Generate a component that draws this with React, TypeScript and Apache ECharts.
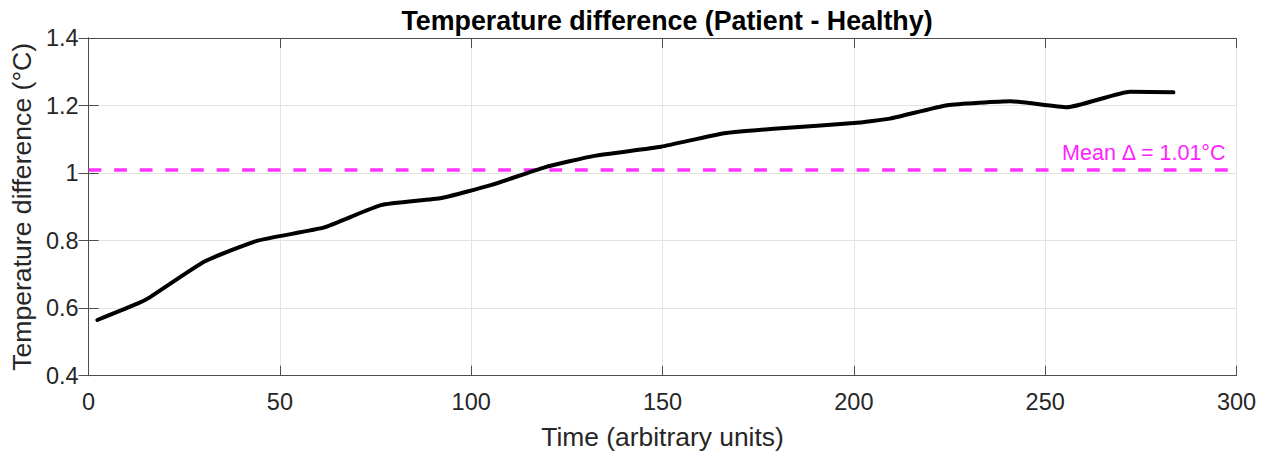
import React, { useEffect, useRef } from "react";
import * as echarts from "echarts";

const times = [2.3, 12.9, 16, 30.3, 44.2, 61.6, 76.4, 92.2, 105.3, 119.2, 132.2, 149.6, 166.1, 180.9, 200, 209.7, 224.4, 241, 255.7, 272.2, 283.5];
const diffs = [0.565, 0.614, 0.632, 0.738, 0.8, 0.839, 0.905, 0.926, 0.965, 1.017, 1.051, 1.078, 1.118, 1.133, 1.148, 1.162, 1.201, 1.213, 1.195, 1.241, 1.239];
const meanValue = 1.01;
const meanLabel = "Mean Δ = 1.01°C";
const titleText = "Temperature difference (Patient - Healthy)";
const xName = "Time (arbitrary units)";
const yName = "Temperature difference (°C)";

const FONT = "'Liberation Sans', Arial, Helvetica, sans-serif";
const AXIS = "#4d4d4d";
const TXT = "#262626";

export default function App() {
  const ref = useRef<HTMLDivElement>(null);
  useEffect(() => {
    if (!ref.current) return;
    const chart = echarts.init(ref.current, undefined, { renderer: "svg" });
    const tickStyle = { show: true, inside: true, length: 10, lineStyle: { color: AXIS, width: 1 } };
    chart.setOption({
      animation: false,
      backgroundColor: "#ffffff",
      textStyle: { fontFamily: FONT },
      title: {
        text: titleText,
        left: 662,
        top: 2,
        textAlign: "center",
        textStyle: { fontFamily: FONT, fontSize: 26.8, fontWeight: "bold", color: "#000" },
      },
      grid: { left: 86.5, right: 31.5, top: 38, bottom: 81.3, containLabel: false },
      xAxis: [
        {
          type: "value",
          min: 0,
          max: 300,
          interval: 50,
          position: "bottom",
          name: xName,
          nameLocation: "middle",
          nameGap: 48,
          nameTextStyle: { fontFamily: FONT, fontSize: 26.4, color: TXT },
          axisLine: { show: true, lineStyle: { color: AXIS, width: 1 } },
          axisTick: tickStyle,
          axisLabel: { fontFamily: FONT, fontSize: 23.5, color: TXT, margin: 14 },
          splitLine: { show: true, lineStyle: { color: "#e3e3e3", width: 1 } },
        },
        {
          type: "value",
          min: 0,
          max: 300,
          interval: 50,
          position: "top",
          axisLine: { show: true, lineStyle: { color: AXIS, width: 1 } },
          axisTick: tickStyle,
          axisLabel: { show: false },
          splitLine: { show: false },
        },
      ],
      yAxis: [
        {
          type: "value",
          min: 0.4,
          max: 1.4,
          interval: 0.2,
          position: "left",
          name: yName,
          nameLocation: "middle",
          nameGap: 51,
          nameTextStyle: { fontFamily: FONT, fontSize: 26.6, color: TXT },
          axisLine: { show: true, lineStyle: { color: AXIS, width: 1 } },
          axisTick: tickStyle,
          axisLabel: {
            fontFamily: FONT,
            fontSize: 23.5,
            color: TXT,
            margin: 10,
            formatter: (v: number) => String(Math.round(v * 10) / 10),
          },
          splitLine: { show: true, lineStyle: { color: "#e3e3e3", width: 1 } },
        },
        {
          type: "value",
          min: 0.4,
          max: 1.4,
          interval: 0.2,
          position: "right",
          axisLine: { show: true, lineStyle: { color: AXIS, width: 1 } },
          axisTick: tickStyle,
          axisLabel: { show: false },
          splitLine: { show: false },
        },
      ],
      series: [
        {
          type: "line",
          xAxisIndex: 0,
          yAxisIndex: 0,
          data: times.map((t, i) => [t, diffs[i]]),
          showSymbol: false,
          symbol: "none",
          smooth: 0.15,
          lineStyle: { color: "#000000", width: 4, join: "round", cap: "round" },
          z: 3,
          markLine: {
            silent: true,
            symbol: ["none", "none"],
            data: [{ yAxis: meanValue }],
            lineStyle: { color: "#ff33ff", width: 3.5, type: [12.8, 12.8] },
            label: {
              show: true,
              position: "insideEndTop",
              distance: [11, 6],
              formatter: meanLabel,
              fontFamily: FONT,
              fontSize: 21.5,
              color: "#ff22ff",
            },
            z: 2,
          },
        },
      ],
    });
    return () => chart.dispose();
  }, []);
  return (
    <div
      ref={ref}
      style={{ position: "fixed", left: 0, top: 0, width: 1268, height: 457, background: "#fff" }}
    />
  );
}
